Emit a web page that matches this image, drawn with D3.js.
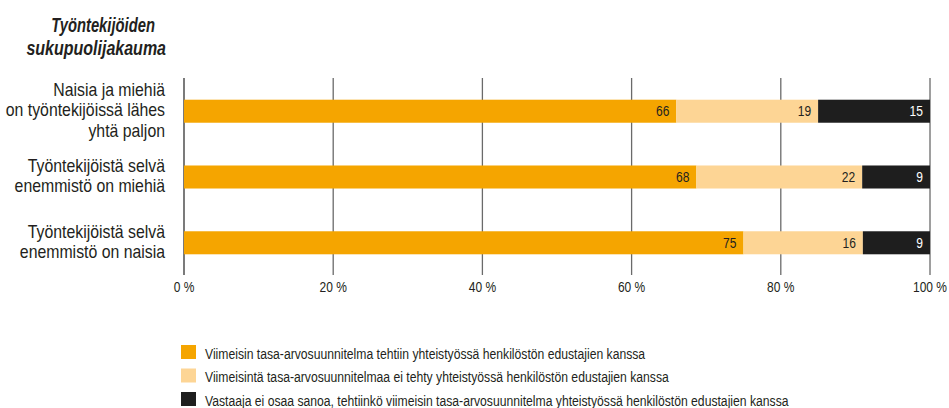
<!DOCTYPE html>
<html>
<head>
<meta charset="utf-8">
<script src="https://cdn.jsdelivr.net/npm/d3@7"></script>
<style>
  html, body { margin: 0; padding: 0; background: #fff; }
  svg { display: block; font-family: "Liberation Sans", Arial, sans-serif; }
</style>
</head>
<body>
<svg id="chart" width="949" height="408"></svg>
<script>
// Category labels (each entry split into display lines)
const categories = [
  ["Naisia ja miehiä", "on työntekijöissä lähes", "yhtä paljon"],
  ["Työntekijöistä selvä", "enemmistö on miehiä"],
  ["Työntekijöistä selvä", "enemmistö on naisia"]
];
const seriesNames = [
  "Viimeisin tasa-arvosuunnitelma tehtiin yhteistyössä henkilöstön edustajien kanssa",
  "Viimeisintä tasa-arvosuunnitelmaa ei tehty yhteistyössä henkilöstön edustajien kanssa",
  "Vastaaja ei osaa sanoa, tehtiinkö viimeisin tasa-arvosuunnitelma yhteistyössä henkilöstön edustajien kanssa"
];
const madeTogether = [66, 68, 75];
const notTogether = [19, 22, 16];
const dontKnow = [15, 9, 9];
const tickValues = [0, 20, 40, 60, 80, 100];
const titleLines = ["Työntekijöiden", "sukupuolijakauma"];

const colors = ["#f5a500", "#fdd595", "#1e1e1e"];
const labelColors = ["#231f20", "#231f20", "#ffffff"];
const ink = "#231f20";

const svg = d3.select("#chart");

// Narrow the text horizontally around its anchor point
function condense(sel, k, ax) {
  sel.attr("transform", `translate(${ax},0) scale(${k},1) translate(${-ax},0)`);
}

const x = d3.scaleLinear().domain([0, 1]).range([184, 930]);
const y = d3.scaleBand().domain(d3.range(categories.length)).range([78, 276]).paddingInner(0.65).paddingOuter(0.33);

// Gridlines
svg.append("g").selectAll("line").data(tickValues).join("line")
  .attr("x1", d => x(d / 100)).attr("x2", d => x(d / 100))
  .attr("y1", 78).attr("y2", 275)
  .attr("stroke", d => d === 0 ? "#333" : "#6a6a6a")
  .attr("stroke-width", 1.3);

// Stacked bars, each row shown as shares of its total
const rows = categories.map((c, i) => ({ i, v: [madeTogether[i], notTogether[i], dontKnow[i]] }));
const stack = d3.stack().keys([0, 1, 2]).value((d, k) => d.v[k]).offset(d3.stackOffsetExpand);
const layers = stack(rows);

const barG = svg.append("g");
layers.forEach((layer, k) => {
  barG.selectAll(null).data(layer).join("rect")
    .attr("x", d => x(d[0]))
    .attr("width", d => x(d[1]) - x(d[0]))
    .attr("y", d => y(d.data.i))
    .attr("height", y.bandwidth())
    .attr("fill", colors[k]);
  barG.selectAll(null).data(layer).join("text")
    .attr("x", d => x(d[1]) - 7)
    .attr("y", d => y(d.data.i) + y.bandwidth() / 2)
    .attr("dy", "0.36em")
    .attr("text-anchor", "end")
    .attr("font-size", 14.5)
    .attr("fill", labelColors[k])
    .text(d => d.data.v[k])
    .each(function (d) { condense(d3.select(this), 0.83, x(d[1]) - 7); });
});

// Axis tick labels
svg.append("g").selectAll("text").data(tickValues).join("text")
  .attr("x", d => x(d / 100))
  .attr("y", 292)
  .attr("text-anchor", "middle")
  .attr("font-size", 15)
  .attr("fill", ink)
  .text(d => d + " %")
  .each(function (d) { condense(d3.select(this), 0.8, x(d / 100)); });

// Category labels
const catG = svg.append("g");
categories.forEach((lines, i) => {
  const cy = y(i) + y.bandwidth() / 2;
  const lh = 20.5;
  const t = catG.append("text")
    .attr("text-anchor", "end")
    .attr("font-size", 18)
    .attr("fill", ink);
  lines.forEach((ln, j) => {
    t.append("tspan")
      .attr("x", 165)
      .attr("y", cy + 5 + (j - (lines.length - 1) / 2) * lh)
      .text(ln);
  });
  condense(t, 0.88, 165);
});

// Title
const titleRight = [155, 166];
titleLines.forEach((ln, j) => {
  const t = svg.append("text")
    .attr("x", titleRight[j])
    .attr("y", 32 + j * 23)
    .attr("text-anchor", "end")
    .attr("font-size", 20)
    .attr("font-weight", "bold")
    .attr("font-style", "italic")
    .attr("fill", ink)
    .text(ln);
  condense(t, j === 0 ? 0.74 : 0.8, titleRight[j]);
});

// Legend
const legend = svg.append("g");
seriesNames.forEach((name, k) => {
  const ly = 345 + k * 23.5;
  legend.append("rect").attr("x", 181).attr("y", ly).attr("width", 15).attr("height", 14).attr("fill", colors[k]);
  const t = legend.append("text").attr("x", 205).attr("y", ly + 14)
    .attr("font-size", 14).attr("fill", ink).text(name);
  condense(t, 0.87, 205);
});
</script>
</body>
</html>
